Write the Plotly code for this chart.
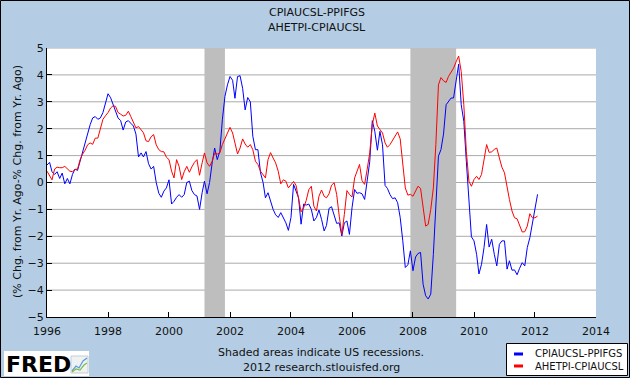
import pandas as pd
import plotly.graph_objects as go

# ---------------- data (monthly) ----------------
start_month = "1996-01-01"

cpi_ppi = [  # CPIAUCSL-PPIFGS
    0.65, 0.75, 0.4, 0.3, 0.4, 0.15, 0.35, -0.05, 0.15, -0.05, 0.3, 0.5,
    0.45, 0.8, 1.1, 1.5, 1.8, 2.15, 2.4, 2.45, 2.35, 2.4, 2.6, 2.9,
    3.3, 3.15, 2.9, 2.6, 2.4, 2.3, 1.95, 2.25, 2.3, 2.2, 2.1, 1.8,
    0.95, 1.1, 0.95, 1.15, 0.7, 0.5, 0.6, 0.0, -0.4, -0.55, -0.32, -0.2,
    0.1, -0.8, -0.7, -0.55, -0.45, -0.55, -0.45, 0.0, 0.05, -0.3, -0.45, -0.5,
    -1.0, -0.38, 0.05, -0.42, 0.0, 0.73, 1.28, 0.85, 1.16, 2.33, 3.2, 3.63,
    3.94, 3.8, 3.13, 3.94, 3.97, 3.5, 2.7, 3.16, 3.0, 1.72, 1.22, 1.22,
    0.36, 0.0, -0.57, -0.38, -0.72, -1.0, -1.2, -1.3, -1.12, -1.33, -1.5, -1.78,
    -1.3, -0.07, -0.32, -0.57, -1.55, -0.8, -0.84, -0.8, -1.0, -1.43, -1.3, -1.02,
    -1.37, -1.8, -1.6, -0.96, -0.9, -1.25, -1.52, -1.5, -1.99, -1.5, -1.43, -1.93,
    -0.94, -0.26, -0.4, -0.38, -0.42, -0.63, 0.11, 0.77, 2.3, 1.9, 1.2, 1.9,
    1.4, -0.11, -0.22, -0.45, -0.6, -0.57, -0.75, -1.3, -2.17, -3.16, -3.06, -2.54,
    -3.28, -2.77, -2.64, -2.6, -3.78, -4.21, -4.33, -4.15, -2.67, -0.81, 0.98, 1.22,
    1.8, 2.89, 3.0, 3.14, 3.14, 3.7, 4.4, 2.89, 2.27, 0.79, -0.81, -2.02,
    -2.17, -2.67, -3.4, -3.04, -2.42, -1.56, -2.4, -2.11, -2.67, -3.1, -2.3, -2.17,
    -2.17, -3.22, -2.91, -3.26, -3.25, -3.43, -3.19, -2.98, -3.1, -2.42, -2.05, -1.56,
    -0.94, -0.44,
]

ahe_cpi = [  # AHETPI-CPIAUCSL
    0.42, 0.27, 0.1, 0.5, 0.57, 0.55, 0.55, 0.6, 0.5, 0.42, 0.4, 0.48,
    0.5, 0.85, 1.05, 1.2, 1.4, 1.47, 1.42, 1.65, 1.65, 2.0, 2.35, 2.48,
    2.6, 2.77, 2.85, 2.83, 2.6, 2.54, 2.47, 2.5, 2.65, 2.45, 2.2, 2.03,
    2.08, 1.98, 1.85, 1.55, 1.52, 1.7, 1.78, 1.4, 1.22, 1.15, 1.14, 0.94,
    0.85, 0.42, 0.17, 0.85, 0.6, 0.11, 0.4, 0.6, 0.38, 0.58, 0.75, 0.85,
    0.27, 0.73, 1.1, 0.73, 0.6, 0.79, 1.09, 1.06, 1.1, 1.41, 1.63, 1.84,
    2.05, 1.84, 1.41, 1.06, 1.28, 1.62, 1.43, 1.31, 1.41, 1.22, 0.79, 0.67,
    0.42, 0.3, 0.17, 0.85, 1.11, 0.91, 0.73, 0.42, -0.05, 0.1, 0.05, -0.2,
    -0.07, 0.04, -0.1, -0.57, -1.09, -0.94, -0.67, -0.27, -0.14, -0.88, -1.06, -0.51,
    -0.28, -0.51, -0.57, -0.42, -0.1, -0.01, -0.44, -1.25, -1.93, -1.19, -0.3, -0.44,
    -0.54, 0.17, 0.42, 0.67, 0.07, -0.07, 0.48, 1.1, 2.15, 2.58,
    2.1, 1.95, 1.84, 1.47, 1.31, 1.41, 1.57, 1.72, 1.88, 1.62, 0.6, -0.2,
    -0.47, -0.44, -0.51, -0.3, -0.14, -0.22, -0.94, -1.62, -1.56, -1.0, -0.2, 1.41,
    3.63, 3.9, 3.78, 3.72, 3.94, 4.1, 4.25, 4.49, 4.7, 4.12, 2.89, 1.16,
    0.05, -0.14, 0.11, 0.23, 0.11, 0.3, 0.85, 1.41, 1.12, 1.14, 1.23, 1.28,
    0.91, 0.57, 0.36, -0.2, -0.63, -1.06, -1.31, -1.35, -1.56, -1.84, -1.83, -1.62,
    -1.16, -1.31, -1.31, -1.25,
]

rec_start = ["2001-03-01", "2007-12-01"]
rec_end = ["2001-11-01", "2009-06-01"]

series_names = ["CPIAUCSL-PPIFGS", "AHETPI-CPIAUCSL"]
series_colors = ["#0000FF", "#FF0000"]
x_range = ["1996-01-01", "2014-01-01"]
y_range = [-5, 5]
y_ticks = [-5, -4, -3, -2, -1, 0, 1, 2, 3, 4, 5]

# ---------------- figure ----------------
W, H = 630, 378
ML, MR, MT, MB = 47, 34, 48, 61
PW, PH = W - ML - MR, H - MT - MB


def px(x):
    return (x - ML) / PW


def py(y):
    return (H - MB - y) / PH


dates_blue = pd.date_range(start_month, periods=len(cpi_ppi), freq="MS")
dates_red = pd.date_range(start_month, periods=len(ahe_cpi), freq="MS")

FONT = "DejaVu Sans"
BG = "#B4CDE4"

fig = go.Figure()
fig.add_trace(go.Scatter(x=dates_blue, y=cpi_ppi, mode="lines", name=series_names[0],
                         line=dict(color=series_colors[0], width=1), showlegend=False))
fig.add_trace(go.Scatter(x=dates_red, y=ahe_cpi, mode="lines", name=series_names[1],
                         line=dict(color=series_colors[1], width=1), showlegend=False))

shapes = []
# horizontal grid lines (drawn as shapes so the recession bars can cover them)
for t in y_ticks[1:]:
    shapes.append(dict(type="line", xref="x domain", yref="y", x0=0, x1=1, y0=t, y1=t,
                       line=dict(color="#AAAAAA", width=1), layer="below"))
for s, e in zip(rec_start, rec_end):
    shapes.append(dict(type="rect", xref="x", yref="y domain", x0=s, x1=e, y0=0, y1=1,
                       fillcolor="#BEBEBE", line=dict(width=0), layer="below"))

# outer border
shapes.append(dict(type="rect", xref="paper", yref="paper",
                   x0=px(0.5), x1=px(629.5), y0=py(377.5), y1=py(0.5),
                   line=dict(color="#000000", width=1), layer="above"))
# legend box
shapes.append(dict(type="rect", xref="paper", yref="paper",
                   x0=px(506.5), x1=px(627.5), y0=py(375.5), y1=py(343.5),
                   fillcolor="#FFFFFF", line=dict(color="#000000", width=1), layer="above"))
legend_y = [354, 366]
for yy, c in zip(legend_y, series_colors):
    shapes.append(dict(type="line", xref="paper", yref="paper",
                       x0=px(514), x1=px(523), y0=py(yy), y1=py(yy),
                       line=dict(color=c, width=3), layer="above"))
# FRED logo background + icon
shapes.append(dict(type="rect", xref="paper", yref="paper",
                   x0=px(4), x1=px(89), y0=py(376), y1=py(351),
                   fillcolor="#FFFFFF", line=dict(width=0), layer="above"))
shapes.append(dict(type="rect", xref="paper", yref="paper",
                   x0=px(71), x1=px(88), y0=py(373), y1=py(356),
                   fillcolor="#EEF2F4", line=dict(color="#C8CCD0", width=1), layer="above"))
icon_pts = [(72, 371), (76, 366), (79, 368), (83, 361), (87, 358)]
icon_pts2 = [(72, 372), (76, 369), (80, 370), (84, 365), (87, 363)]
for pts, col in ((icon_pts, "#5B9BD5"), (icon_pts2, "#7DBE4A")):
    path = "M " + " L ".join(f"{px(a):.5f},{py(b):.5f}" for a, b in pts)
    shapes.append(dict(type="path", xref="paper", yref="paper", path=path,
                       line=dict(color=col, width=1.2), layer="above"))

annotations = []


def ann(text, x, y, size=11, xanchor="center", **kw):
    annotations.append(dict(text=text, x=px(x), y=py(y), xref="paper", yref="paper",
                            showarrow=False, xanchor=xanchor, yanchor="middle",
                            font=dict(family=kw.pop("family", FONT), size=size,
                                      color=kw.pop("color", "#111111")), **kw))


ann(series_names[0], 317, 13)
ann(series_names[1], 317, 28)
ann("(% Chg. from Yr. Ago-% Chg. from Yr. Ago)", 17, 182, textangle=-90)
ann("Shaded areas indicate US recessions.", 321, 352)
ann("2012 research.stlouisfed.org", 321, 367)
for yy, name in zip(legend_y, series_names):
    ann(name, 533, yy, size=10, xanchor="left")
ann("<b>FRED</b>", 4, 364, size=22, xanchor="left", color="#000000")

fig.update_layout(
    width=W, height=H,
    margin=dict(l=ML, r=MR, t=MT, b=MB, pad=0),
    paper_bgcolor=BG, plot_bgcolor="#FFFFFF",
    font=dict(family=FONT, size=11, color="#111111"),
    showlegend=False,
    shapes=shapes, annotations=annotations,
    xaxis=dict(type="date", range=x_range, tickformat="%Y", dtick="M24",
               tick0="1996-01-01", ticks="inside", ticklen=5, tickcolor="#000000",
               showline=True, linecolor="#000000", linewidth=1, showgrid=False,
               zeroline=False, ticklabelstandoff=4,
               tickfont=dict(size=11, color="#111111")),
    yaxis=dict(range=y_range, tickvals=y_ticks, ticks="inside", ticklen=5,
               tickcolor="#000000", showline=True, linecolor="#000000", linewidth=1,
               showgrid=False, zeroline=False, tickfont=dict(size=11, color="#111111")),
)

fig.write_html("out.html", config={"displayModeBar": False},
               post_script="document.body.style.margin='0';")
